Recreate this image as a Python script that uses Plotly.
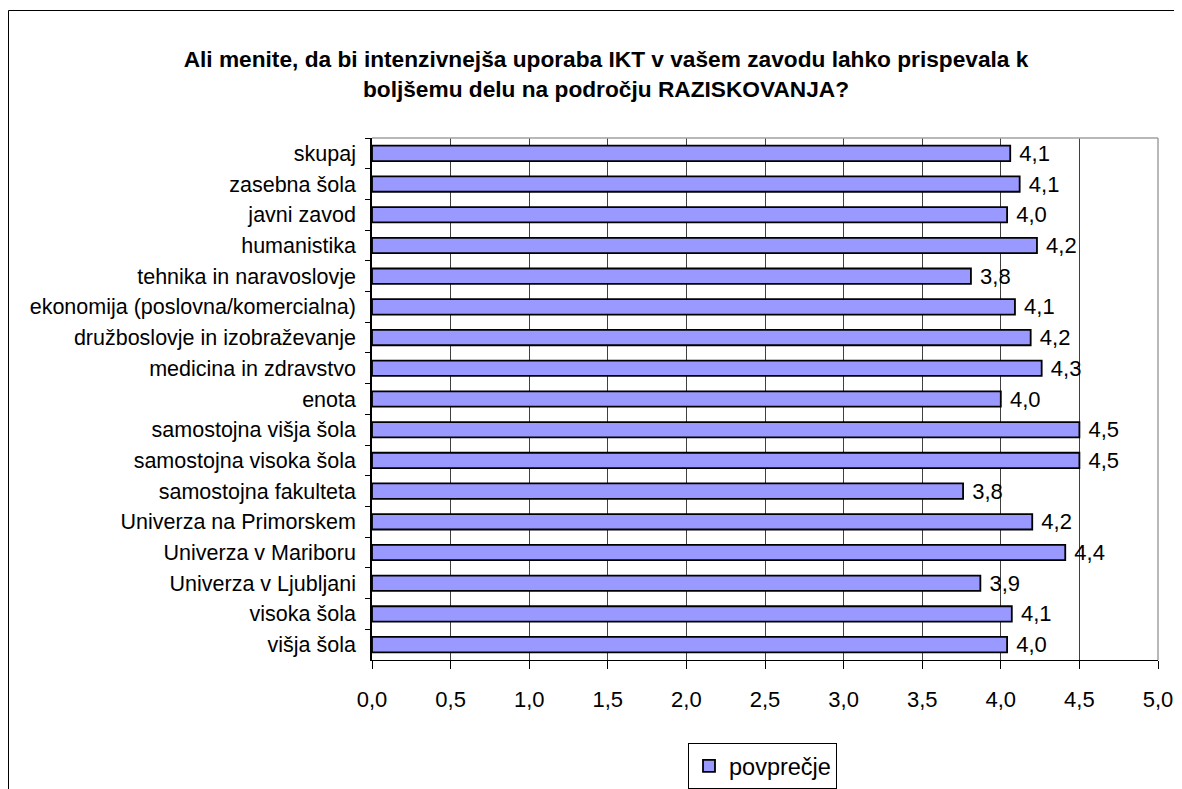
import plotly.graph_objects as go

categories = [
    "skupaj", "zasebna šola", "javni zavod", "humanistika",
    "tehnika in naravoslovje", "ekonomija (poslovna/komercialna)",
    "družboslovje in izobraževanje", "medicina in zdravstvo", "enota",
    "samostojna višja šola", "samostojna visoka šola", "samostojna fakulteta",
    "Univerza na Primorskem", "Univerza v Mariboru", "Univerza v Ljubljani",
    "visoka šola", "višja šola",
]
values = [4.06, 4.12, 4.04, 4.23, 3.81, 4.09, 4.19, 4.26, 4.00,
          4.50, 4.50, 3.76, 4.20, 4.41, 3.87, 4.07, 4.04]
x_ticks = [0, 0.5, 1, 1.5, 2, 2.5, 3, 3.5, 4, 4.5, 5]
series_name = "povprečje"
title_text = ("Ali menite, da bi intenzivnejša uporaba IKT v vašem zavodu lahko prispevala k"
              "<br>boljšemu delu na področju RAZISKOVANJA?")

FONT = "Liberation Sans, Arial, sans-serif"
OFF = 8  # page body margin
W, H = 1182, 789
# target screen coordinates of the plot area
SL, SR, ST, SB = 372, 1158, 138, 660
L, T = SL - OFF, ST - OFF
R, B = W - (SR - OFF), H - (SB - OFF)
pw, ph = W - L - R, H - T - B

def px(x):
    return (x - SL) / pw

def py(y):
    return (SB - y) / ph

fig = go.Figure()
fig.add_trace(go.Bar(
    x=values, y=categories, orientation="h", name=series_name,
    marker=dict(color="#9999FF", line=dict(color="black", width=1.8)),
    width=0.5,
    texttemplate=" %{x:.1f}", textposition="outside", constraintext="none",
    textfont=dict(family=FONT, size=22, color="black"),
    cliponaxis=False, showlegend=True,
))

fig.update_layout(
    width=W, height=H,
    margin=dict(l=L, r=R, t=T, b=B, pad=0, autoexpand=False),
    paper_bgcolor="white", plot_bgcolor="white",
    separators=", ",
    font=dict(family=FONT, size=22, color="black"),
    title=dict(text=title_text, x=(606 - OFF) / W, xref="container", xanchor="center",
               y=1 - (67 - OFF) / H, yref="container", yanchor="middle",
               font=dict(family=FONT, size=22.7, color="black", weight="bold")),
    legend=dict(orientation="h", x=px(688), xanchor="left", y=py(743), yanchor="top",
                bordercolor="black", borderwidth=1, bgcolor="white",
                font=dict(family=FONT, size=23.5, color="black")),
    xaxis=dict(range=[0, 5], tickvals=x_ticks, tickformat=".1f",
               showgrid=True, gridcolor="#404040", gridwidth=1,
               showline=True, linecolor="black", linewidth=1,
               ticks="outside", ticklen=8, tickcolor="black",
               tickfont=dict(family=FONT, size=22, color="black"),
               ticklabelstandoff=12, automargin=False,
               zeroline=False, fixedrange=True),
    yaxis=dict(type="category", autorange="reversed",
               showline=True, linecolor="black", linewidth=1.5,
               ticks="outside", ticklen=5, tickcolor="black", tickson="boundaries",
               ticklabelstandoff=10, automargin=False,
               showgrid=False,
               tickfont=dict(family=FONT, size=21.5, color="black"),
               fixedrange=True),
    shapes=[
        dict(type="line", xref="paper", yref="paper", x0=0, x1=1, y0=1, y1=1,
             line=dict(color="#A0A0A0", width=1.5)),
        dict(type="line", xref="paper", yref="paper", x0=1, x1=1, y0=0, y1=1,
             line=dict(color="#A0A0A0", width=1.5)),
        dict(type="rect", xref="paper", yref="paper",
             x0=px(8.5), x1=px(1200), y0=py(10.5), y1=py(810),
             line=dict(color="black", width=1), fillcolor="rgba(0,0,0,0)", layer="below"),
    ],
)

fig.write_html("out.html")
